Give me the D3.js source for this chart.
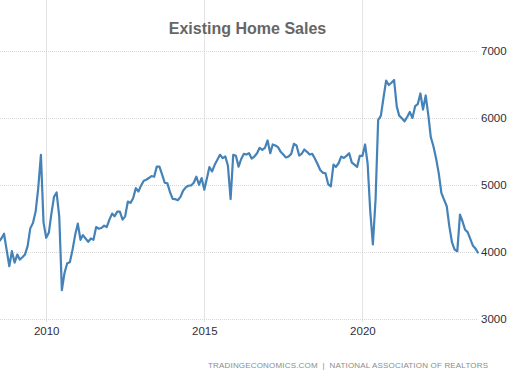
<!DOCTYPE html>
<html>
<head>
<meta charset="utf-8">
<script src="https://cdn.jsdelivr.net/npm/d3@7/dist/d3.min.js"></script>
<style>
  html, body { margin: 0; padding: 0; background: #ffffff; }
  svg { display: block; }
</style>
</head>
<body>
<svg id="chart" width="525" height="389"></svg>
<script>
// ---- data (monthly, seasonally adjusted annual rate, thousands) ----
const startMonth = "2008-07";
const sales = [
  // 2008 Jul-Dec
  4150, 4200, 4270, 4030, 3786, 4010,
  // 2009
  3840, 3960, 3885, 3920, 3960, 4090, 4350, 4430, 4600, 4950, 5445, 4440,
  // 2010
  4210, 4290, 4560, 4820, 4885, 4520, 3430, 3690, 3830, 3845, 4030, 4250,
  // 2011
  4420, 4180, 4250, 4200, 4150, 4200, 4180, 4370, 4345, 4355, 4390, 4370,
  // 2012
  4480, 4570, 4530, 4600, 4600, 4480, 4530, 4750, 4730, 4800, 4950, 4900,
  // 2013
  4990, 5060, 5075, 5100, 5130, 5120, 5270, 5270, 5150, 5030, 5020, 4890,
  // 2014
  4790, 4785, 4770, 4820, 4910, 4960, 4985, 4990, 5030, 5120, 5000, 5100,
  // 2015
  4926, 5100, 5263, 5198, 5297, 5371, 5446, 5396, 5421, 5282, 4787, 5446,
  // 2016
  5431, 5270, 5380, 5460, 5450, 5470, 5390, 5420, 5470, 5550, 5520, 5550,
  // 2017
  5660, 5470, 5600, 5585, 5560, 5490, 5450, 5405, 5420, 5460, 5610, 5585,
  // 2018
  5435, 5465, 5525, 5490, 5450, 5460, 5390, 5310, 5220, 5180, 5170, 5010,
  // 2019
  4975, 5300, 5265, 5320, 5420, 5400, 5430, 5470, 5330, 5300, 5265, 5430,
  // 2020
  5430, 5600, 5320, 4600, 4110, 4780, 5965, 6025, 6300, 6550, 6486, 6520,
  // 2021
  6560, 6164, 6030, 5990, 5945, 6010, 6085, 5995, 6170, 6200, 6360, 6120,
  // 2022
  6330, 6030, 5710, 5570, 5390, 5170, 4880, 4777, 4680, 4380, 4140, 4035,
  // 2023 Jan-Sep
  4010, 4554, 4460, 4330, 4295, 4190, 4090, 4045, 3980
];
const yTicks = [3000, 4000, 5000, 6000, 7000];
const xTickYears = [2010, 2015, 2020];
const titleText = "Existing Home Sales";
const sourceText = "TRADINGECONOMICS.COM\u00a0\u00a0|\u00a0\u00a0NATIONAL ASSOCIATION OF REALTORS";

// ---- build series ----
const parseMonth = d3.timeParse("%Y-%m");
const t0 = parseMonth(startMonth);
const series = sales.map((v, i) => ({ date: d3.timeMonth.offset(t0, i), value: v }));

// ---- layout ----
const svg = d3.select("#chart");
const plotLeft = 0, plotRight = 478, plotTop = 50.5, plotBottom = 319;

const x = d3.scaleTime()
  .domain([new Date(2010, 0, 1), new Date(2020, 0, 1)])
  .range([46.2, 362.4]);
const y = d3.scaleLinear()
  .domain([3000, 7000])
  .range([plotBottom, plotTop]);

// vertical grid
const xTicks = xTickYears.map(yr => new Date(yr, 0, 1));
svg.append("g").selectAll("line")
  .data(xTicks).join("line")
  .attr("x1", d => Math.round(x(d)) + 0.5)
  .attr("x2", d => Math.round(x(d)) + 0.5)
  .attr("y1", 0)
  .attr("y2", plotBottom + 3)
  .attr("stroke", "#e4e4e4")
  .attr("stroke-width", 1);

// horizontal grid (dotted)
svg.append("g").selectAll("line")
  .data(yTicks).join("line")
  .attr("x1", plotLeft)
  .attr("x2", plotRight)
  .attr("y1", d => Math.round(y(d)) + 0.5)
  .attr("y2", d => Math.round(y(d)) + 0.5)
  .attr("stroke", "#d6d6d6")
  .attr("stroke-width", 1)
  .attr("stroke-dasharray", "1,1");

// right y axis labels
const yAxis = d3.axisRight(y).tickValues(yTicks).tickSize(0).tickPadding(0).tickFormat(d3.format("d"));
const yG = svg.append("g").attr("transform", `translate(${plotRight + 3},0)`).call(yAxis);
yG.select(".domain").remove();
yG.selectAll("text")
  .attr("fill", "#2e2e3a")
  .style("font-family", "'Liberation Sans', Arial, sans-serif")
  .style("font-size", "11.5px");

// bottom x axis labels
const xAxis = d3.axisBottom(x).tickValues(xTicks).tickSize(0).tickPadding(0).tickFormat(d3.timeFormat("%Y"));
const xG = svg.append("g").attr("transform", `translate(0,${plotBottom + 8})`).call(xAxis);
xG.select(".domain").remove();
xG.selectAll("text")
  .attr("fill", "#2e2e3a")
  .style("font-family", "'Liberation Sans', Arial, sans-serif")
  .style("font-size", "11.5px");

// line
const line = d3.line()
  .x(d => x(d.date))
  .y(d => y(d.value));
svg.append("path")
  .datum(series)
  .attr("d", line)
  .attr("fill", "none")
  .attr("stroke", "#4582b8")
  .attr("stroke-width", 2.2)
  .attr("stroke-linejoin", "round");

// title
svg.append("text")
  .attr("x", 247.5)
  .attr("y", 34)
  .attr("text-anchor", "middle")
  .attr("fill", "#666666")
  .style("font-family", "'Liberation Sans', Arial, sans-serif")
  .style("font-weight", "bold")
  .style("font-size", "16px")
  .text(titleText);

// source
svg.append("text")
  .attr("x", 488)
  .attr("y", 367.5)
  .attr("text-anchor", "end")
  .attr("fill", "#8c8c8c")
  .attr("textLength", 280)
  .attr("lengthAdjust", "spacing")
  .style("font-family", "'Liberation Sans', Arial, sans-serif")
  .style("font-size", "8px")
  .text(sourceText);
</script>
</body>
</html>
